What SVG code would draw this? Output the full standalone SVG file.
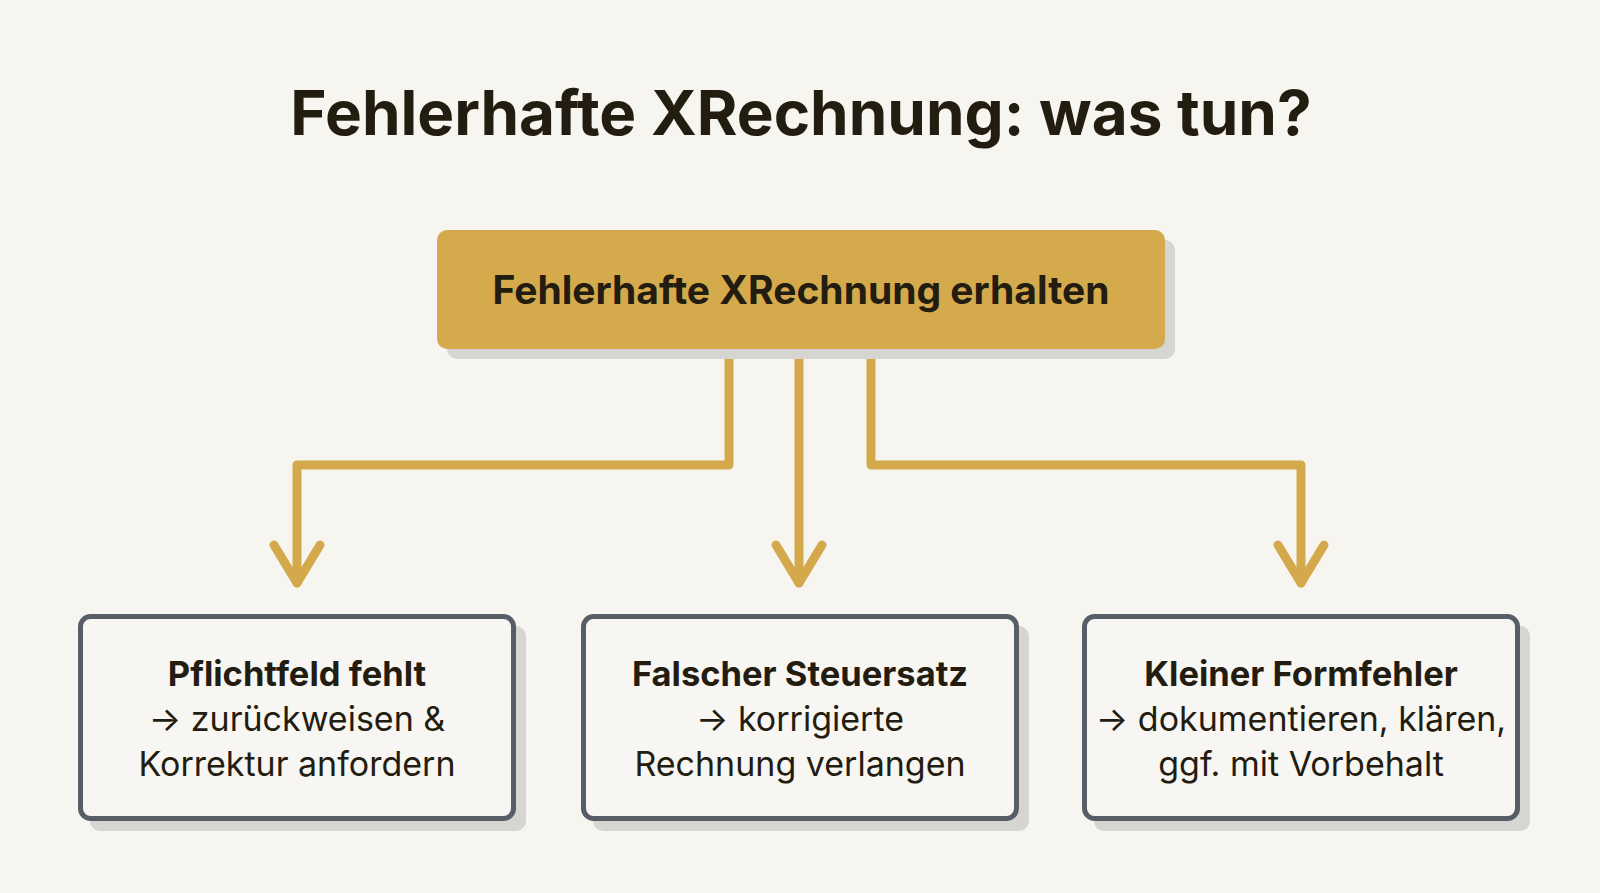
<svg xmlns="http://www.w3.org/2000/svg" width="1600" height="893" viewBox="0 0 1600 893">
<style>
.bg{fill:#F7F5F0}
.title{font-family:Inter,"Liberation Sans",sans-serif;font-weight:700;font-size:62px;fill:#231C10}
.htext{font-family:Inter,"Liberation Sans",sans-serif;font-weight:700;font-size:39px;fill:#231C10}
.btitle{font-family:Inter,"Liberation Sans",sans-serif;font-weight:700;font-size:34.5px;fill:#231C10}
.btext{font-family:Inter,"Liberation Sans",sans-serif;font-weight:400;font-size:34px;fill:#231C10}
.shadow{fill:#D6D5D1}
.box{fill:#F7F6F2;stroke:#575E68;stroke-width:5}
.conn{fill:none;stroke:#D4A94B;stroke-width:9;stroke-linecap:round;stroke-linejoin:round}
</style>
<rect class="bg" x="0" y="0" width="1600" height="893"/>
<text class="title" x="801" y="135" text-anchor="middle">Fehlerhafte XRechnung: was tun?</text>
<g id="connectors">
<path class="conn" d="M729 350 V465 H297 V583"/>
<path class="conn" d="M274 545 L297 583 L320 545"/>
<path class="conn" d="M799 350 V583"/>
<path class="conn" d="M776 545 L799 583 L822 545"/>
<path class="conn" d="M871 350 V465 H1301 V583"/>
<path class="conn" d="M1278 545 L1301 583 L1324 545"/>
</g>
<g id="start">
<rect class="shadow" x="447" y="240" width="728" height="119" rx="10"/>
<rect x="437" y="230" width="728" height="119" rx="10" fill="#D4AA4C"/>
<text class="htext" x="801" y="304" text-anchor="middle">Fehlerhafte XRechnung erhalten</text>
</g>
<g id="pflichtfeld">
<rect class="shadow" x="90" y="626" width="436" height="205" rx="10"/>
<rect class="box" x="80.5" y="616.5" width="433" height="202" rx="10"/>
<text class="btitle" x="297" y="686" text-anchor="middle">Pflichtfeld fehlt</text>
<text class="btext" x="297" y="731" text-anchor="middle">→ zurückweisen &amp;</text>
<text class="btext" x="297" y="776" text-anchor="middle">Korrektur anfordern</text>
</g>
<g id="steuersatz">
<rect class="shadow" x="593" y="626" width="436" height="205" rx="10"/>
<rect class="box" x="583.5" y="616.5" width="433" height="202" rx="10"/>
<text class="btitle" x="800" y="686" text-anchor="middle">Falscher Steuersatz</text>
<text class="btext" x="800" y="731" text-anchor="middle">→ korrigierte</text>
<text class="btext" x="800" y="776" text-anchor="middle">Rechnung verlangen</text>
</g>
<g id="formfehler">
<rect class="shadow" x="1094" y="626" width="436" height="205" rx="10"/>
<rect class="box" x="1084.5" y="616.5" width="433" height="202" rx="10"/>
<text class="btitle" x="1301" y="686" text-anchor="middle">Kleiner Formfehler</text>
<text class="btext" x="1301" y="731" text-anchor="middle">→ dokumentieren, klären,</text>
<text class="btext" x="1301" y="776" text-anchor="middle">ggf. mit Vorbehalt</text>
</g>
</svg>
